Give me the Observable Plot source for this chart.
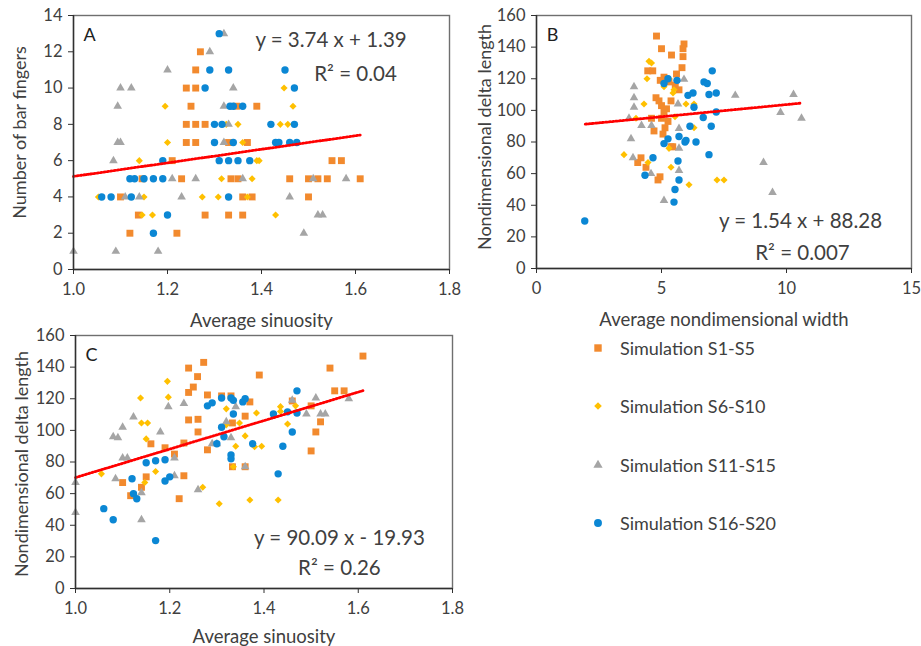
<!DOCTYPE html>
<html><head><meta charset="utf-8">
<script src="https://cdn.jsdelivr.net/npm/d3@7"></script>
<script src="https://cdn.jsdelivr.net/npm/@observablehq/plot@0.6"></script>
<style>
body{margin:0;background:#fff;font-family:Lato,"Open Sans",sans-serif;}
#wrap{position:relative;width:921px;height:646px;overflow:hidden;background:#fff;}
.panel{position:absolute;}
.leg{position:absolute;display:flex;align-items:center;font-size:18px;color:#404040;font-family:Lato,"Open Sans",sans-serif;}
</style></head><body><div id="wrap"></div>
<script>
// ---- series ----
const seriesNames = ["Simulation S1-S5","Simulation S6-S10","Simulation S11-S15","Simulation S16-S20"];
const seriesColors = ["#F28A2E","#FFC000","#A5A5A5","#0B87D4"];
const seriesSymbols = ["square","diamond2","triangle","circle"];
const seriesR = [3.9,3.2,3.2,3.7];

// ---- Panel A: Average sinuosity vs Number of bar fingers ----
const A_S1_S5 = [[1.27,12],[1.26,11],[1.24,10],[1.26,10],[1.25,9],[1.347,9],[1.39,9],[1.24,8],[1.26,8],[1.28,8],
  [1.24,7],[1.26,7],[1.33,7],[1.37,7],[1.21,6],[1.55,6],[1.57,6],[1.146,5],[1.23,5],[1.335,5],[1.35,5],[1.46,5],
  [1.50,5],[1.52,5],[1.54,5],[1.61,5],[1.10,4],[1.36,4],[1.38,4],[1.50,4],[1.138,3],[1.28,3],[1.33,3],[1.36,3],[1.12,2],[1.22,2]];
const A_S6_S10 = [[1.448,10],[1.195,9],[1.467,9],[1.325,8],[1.35,8],[1.44,8],[1.456,8],[1.20,7],[1.36,7],[1.14,6],
  [1.39,6],[1.395,6],[1.315,5],[1.38,5],[1.053,4],[1.15,4],[1.274,4],[1.308,4],[1.37,4],[1.146,3],[1.168,3],[1.43,3]];
const A_S11_S15 = [[1.32,13],[1.29,12],[1.20,11],[1.10,10],[1.123,10],[1.34,10],[1.094,9],[1.32,9],[1.33,8],[1.094,7],
  [1.10,7],[1.32,7],[1.085,6],[1.21,5],[1.26,5],[1.36,5],[1.51,5],[1.58,5],[1.11,4],[1.14,4],[1.23,4],[1.46,4],
  [1.52,3],[1.53,3],[1.49,2],[1.0,1],[1.09,1],[1.18,1]];
const A_S16_S20 = [[1.31,13],[1.29,11],[1.33,11],[1.45,11],[1.28,10],[1.47,10],[1.333,9],[1.34,9],[1.36,9],[1.30,8],
  [1.316,8],[1.42,8],[1.47,8],[1.30,7],[1.34,7],[1.43,7],[1.437,7],[1.46,7],[1.475,7],[1.19,6],[1.31,6],[1.33,6],
  [1.35,6],[1.375,6],[1.12,5],[1.13,5],[1.15,5],[1.17,5],[1.19,5],[1.06,4],[1.08,4],[1.123,4],[1.33,4],[1.20,3],[1.17,2]];

// ---- Panel B: Average nondimensional width vs Nondimensional delta length ----
const B_S1_S5 = [[4.8,147],[5.0,139],[5.4,135],[5.9,142],[5.86,139],[5.86,134],[5.82,127],[5.6,123],[4.45,125],[4.65,125],
  [4.95,119],[5.1,121],[5.3,118],[5.55,116],[5.7,113],[4.78,108],[4.9,106],[5.38,106],[5.0,103],[5.2,101],[5.1,99],
  [4.6,95],[5.0,95],[5.26,93],[5.14,89],[4.7,87],[5.06,85],[5.45,77],[5.38,77],[4.18,70],[4.05,67],[4.38,64],[4.86,56],[4.94,58]];
const B_S6_S10 = [[4.5,131],[4.6,130],[4.42,120],[5.3,120],[5.1,115],[5.5,113],[5.46,111],[4.3,104],[5.98,104],[6.3,104],
  [5.54,96],[3.98,95],[6.3,89],[5.3,76],[3.5,72],[4.46,67],[5.38,64],[6.1,53],[7.22,56],[7.5,56]];
const B_S11_S15 = [[3.9,115],[3.9,108],[3.9,102],[3.7,95],[4.2,90.5],[4.6,90.5],[3.78,82],[5.7,88.6],[5.9,119.6],[5.66,104],
  [3.86,70],[4.58,60],[5.7,76],[5.7,62],[5.1,43],[9.08,67],[9.44,48],[7.95,109.5],[10.28,110],[9.76,98.7],[10.6,95]];
const B_S16_S20 = [[5.26,120],[5.1,117],[5.62,119],[6.06,109.5],[6.26,111],[7.03,125],[6.7,118],[6.83,117],[6.9,110],[7.19,111],
  [6.3,102],[6.67,95.5],[7.19,99],[6.99,90],[6.14,90],[5.7,83.5],[5.98,81],[5.1,79],[5.94,80],[6.38,80],[5.26,82],
  [6.9,72],[4.66,70],[5.66,68],[4.34,59],[5.7,56],[5.54,50],[5.5,42],[1.93,30]];

// ---- Panel C: Average sinuosity vs Nondimensional delta length ----
const C_S1_S5 = [[1.272,143],[1.24,139.4],[1.259,134],[1.25,127.4],[1.24,124],[1.28,122.4],[1.31,121.8],[1.33,121.8],[1.37,118],
  [1.39,135],[1.24,106.6],[1.26,107],[1.26,99],[1.333,104.7],[1.36,109],[1.23,92],[1.16,91.5],[1.19,89],[1.21,85],[1.28,87.7],
  [1.333,77],[1.36,77],[1.10,67],[1.15,70.6],[1.14,64],[1.117,58.7],[1.23,71.3],[1.22,56.8],[1.61,147],[1.54,139.4],
  [1.55,125],[1.57,125],[1.50,115.5],[1.52,105.4],[1.51,99],[1.50,87],[1.46,118.6]];
const C_S6_S10 = [[1.195,131],[1.138,120.5],[1.197,121],[1.14,104.7],[1.153,104.7],[1.15,94.6],[1.32,113.6],[1.32,103.5],
  [1.348,104.7],[1.36,96.5],[1.34,90],[1.055,72.5],[1.147,67],[1.17,74],[1.27,64],[1.305,53.6],[1.37,56],[1.335,77],
  [1.384,111],[1.435,115],[1.435,112],[1.467,115.5],[1.45,104],[1.38,89.6],[1.395,90],[1.43,56]];
const C_S11_S15 = [[1.23,117],[1.197,115],[1.123,108.5],[1.10,102],[1.18,99],[1.08,96],[1.09,95.3],[1.32,105.4],[1.34,115],
  [1.33,95.3],[1.29,91.5],[1.30,91.5],[1.21,82.6],[1.10,82.6],[1.11,82.6],[1.36,77],[1.0,67],[1.0,48],[1.085,69.4],
  [1.21,71.3],[1.26,62.5],[1.14,60.6],[1.14,43.5],[1.46,119],[1.51,120.5],[1.58,120],[1.49,110.4],[1.52,110.4],[1.53,110.4]];
const C_S16_S20 = [[1.28,115.5],[1.29,117.4],[1.31,120.5],[1.33,120.5],[1.335,119],[1.355,118],[1.36,120],[1.335,110.4],
  [1.31,102],[1.315,96],[1.30,91.5],[1.33,84.5],[1.33,82],[1.376,91.5],[1.15,79.5],[1.17,80.8],[1.19,81.4],[1.12,69.4],
  [1.123,60],[1.13,56.8],[1.06,50.5],[1.08,43.5],[1.17,30.3],[1.19,68],[1.20,70.6],[1.47,125],[1.42,110.4],[1.45,111.7],
  [1.47,111],[1.46,99],[1.44,90],[1.43,72.5]];

// ---- trendlines (slope, intercept, x range) and labels ----
const trendA = {m:3.74, b:1.39, x:[1.0,1.61]};
const trendB = {m:1.54, b:88.28, x:[1.95,10.6]};
const trendC = {m:90.09, b:-19.93, x:[1.0,1.61]};
const eqA = ["y = 3.74 x + 1.39","R\u00B2 = 0.04"];
const eqB = ["y = 1.54 x + 88.28","R\u00B2 = 0.007"];
const eqC = ["y = 90.09 x - 19.93","R\u00B2 = 0.26"];

// ---- ticks ----
const sinTicks = [1.0,1.2,1.4,1.6,1.8];
const widthTicks = [0,5,10,15];
const fingerTicks = [0,2,4,6,8,10,12,14];
const lengthTicks = [0,20,40,60,80,100,120,140,160];

const FONT = "Lato, 'Open Sans', sans-serif";
const INK = "#404040";

function panel(o){
  const marks = [];
  o.series.forEach((s,i)=>{
    marks.push(Plot.dot(s,{x:d=>d[0],y:d=>d[1],symbol:seriesSymbols[i],fill:seriesColors[i],r:seriesR[i]}));
  });
  const t = o.trend;
  marks.push(Plot.line(t.x.map(x=>({x, y:t.m*x+t.b})),{x:"x",y:"y",stroke:"#FF0000",strokeWidth:2.8,strokeDasharray:"1.5 1.9"}));
  marks.push(Plot.frame({stroke:"#6f6f6f",strokeWidth:1.4}));
  marks.push(Plot.ruleX([o.xDomain[0]],{stroke:"#303030",strokeWidth:1.4}));
  marks.push(Plot.ruleY([o.yDomain[0]],{stroke:"#303030",strokeWidth:1.4}));
  marks.push(Plot.axisX({ticks:o.xTicks,tickFormat:o.xFmt,tickSize:5,tickPadding:9,label:null,fontSize:16.5,fill:INK,stroke:"#303030"}));
  marks.push(Plot.axisY({ticks:o.yTicks,tickSize:5,tickPadding:6,label:null,fontSize:16.5,fill:INK,stroke:"#303030"}));
  marks.push(Plot.text([o.xLabel],{frameAnchor:"bottom",dy:o.xLabelDy,lineAnchor:"bottom",text:d=>d,fontSize:18.5,fill:INK}));
  marks.push(Plot.text([o.yLabel],{frameAnchor:"left",dx:o.yLabelDx,dy:o.yLabelDy||0,rotate:-90,textAnchor:"middle",lineAnchor:"middle",text:d=>d,fontSize:18,fill:INK}));
  marks.push(Plot.text([o.letter],{frameAnchor:"top-left",dx:16,dy:20,textAnchor:"middle",lineAnchor:"middle",text:d=>d,fontSize:18,fill:"#202020"}));
  marks.push(Plot.text(o.eq.map((t,i)=>({t, x:o.eqPos[i][0], y:o.eqPos[i][1]})),{x:"x",y:"y",text:"t",fontSize:20.5,fill:INK,textAnchor:"middle",lineAnchor:"middle"}));
  const p = Plot.plot({
    width:o.width,height:o.height,
    marginLeft:o.m[0],marginRight:o.m[1],marginTop:o.m[2],marginBottom:o.m[3],
    x:{domain:o.xDomain},y:{domain:o.yDomain},
    style:{fontFamily:FONT,fontSize:"16px",color:INK,background:"transparent",overflow:"visible"},
    marks
  });
  const div = document.createElement("div");
  div.className="panel";
  div.style.left=o.left+"px"; div.style.top=o.top+"px";
  div.appendChild(p);
  document.getElementById("wrap").appendChild(div);
}
const f1 = d3.format(".1f");

panel({left:0,top:0,width:460,height:335,m:[73,11,15,66],
  series:[A_S1_S5,A_S6_S10,A_S11_S15,A_S16_S20],xDomain:[1,1.8],yDomain:[0,14],
  xTicks:sinTicks,xFmt:f1,yTicks:fingerTicks,xLabel:"Average sinuosity",yLabel:"Number of bar fingers",
  xLabelDy:57,yLabelDx:-53,yLabelDy:-10,letter:"A",trend:trendA,eq:eqA,eqPos:[[1.548,12.62],[1.60,10.75]]});

panel({left:460,top:0,width:461,height:335,m:[76,10,15,67],
  series:[B_S1_S5,B_S6_S10,B_S11_S15,B_S16_S20],xDomain:[0,15],yDomain:[0,160],
  xTicks:widthTicks,xFmt:d3.format("d"),yTicks:lengthTicks,xLabel:"Average nondimensional width",yLabel:"Nondimensional delta length",
  xLabelDy:57,yLabelDx:-51,yLabelDy:-5,letter:"B",trend:trendB,eq:eqB,eqPos:[[10.56,29.7],[10.64,9.5]]});

panel({left:0,top:320,width:460,height:326,m:[75,8,15,58],
  series:[C_S1_S5,C_S6_S10,C_S11_S15,C_S16_S20],xDomain:[1,1.8],yDomain:[0,160],
  xTicks:sinTicks,xFmt:f1,yTicks:lengthTicks,xLabel:"Average sinuosity",yLabel:"Nondimensional delta length",
  xLabelDy:54,yLabelDx:-53,yLabelDy:2,letter:"C",trend:trendC,eq:eqC,eqPos:[[1.560,31.5],[1.560,12.6]]});

// ---- legend ----
const legendTop = [348,406,465,523];
seriesNames.forEach((name,i)=>{
  const row = document.createElement("div");
  row.className="leg";
  row.style.left="588px"; row.style.top=(legendTop[i]-12)+"px"; row.style.height="24px";
  const sz = Math.PI*seriesR[i]*seriesR[i]*1.15;
  const type = {square:d3.symbolSquare,diamond2:d3.symbolDiamond2,triangle:d3.symbolTriangle,circle:d3.symbolCircle}[seriesSymbols[i]];
  row.innerHTML = `<svg width="20" height="24" style="margin-right:12px"><path transform="translate(10,12)" d="${d3.symbol(type,sz)()}" fill="${seriesColors[i]}"/></svg><span>${name}</span>`;
  document.getElementById("wrap").appendChild(row);
});
</script></body></html>
